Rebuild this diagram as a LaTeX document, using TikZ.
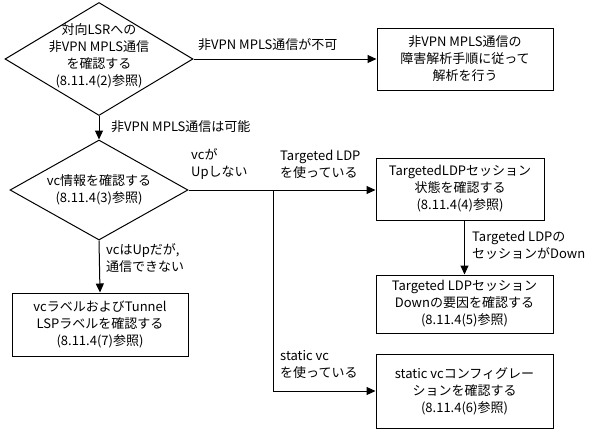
\documentclass[tikz,border=0pt]{standalone}
\usepackage{fontspec}
\setmainfont{Noto Sans CJK JP}
\newcommand{\CHKAX}{99}
\newcommand{\CHKAY}{59}
\newcommand{\CHKBX}{99}
\newcommand{\CHKBY}{190}
\newcommand{\SPLITX}{273}
\newcommand{\BOXAX}{465}
\newcommand{\BOXAY}{59}
\newcommand{\BOXBX}{460}
\newcommand{\BOXBY}{189}
\newcommand{\BOXCX}{464.5}
\newcommand{\BOXCY}{304}
\newcommand{\BOXDX}{464.5}
\newcommand{\BOXDY}{391}
\newcommand{\BOXEX}{100}
\newcommand{\BOXEY}{324.5}
\usetikzlibrary{positioning}
\usetikzlibrary{shapes.geometric,arrows.meta}

\begin{document}
\begin{tikzpicture}[x=1pt,y=-1pt]
\tikzstyle{every node}=[font=\fontsize{13pt}{17pt}\selectfont]
\tikzstyle{check}=[draw, diamond, line width=1pt, inner sep=0pt]
\tikzstyle{task}=[draw, rectangle, line width=1pt, align=center, inner sep=0pt]
\tikzstyle{flow}=[line width=1pt, -{Triangle[length=9pt,width=8pt]}]
\tikzstyle{cond}=[anchor=west, align=left, inner sep=0pt]
	\useasboundingbox (0,0) rectangle (595,432);

% Checks
	\node[check, minimum width=188pt, minimum height=113pt] (chka) at ({\CHKAX},{\CHKAY}) {};
	\node[align=center] (chkatext) at ({\CHKAX},{\CHKAY-3}) {対向LSRへの\\非VPN MPLS通信\\を確認する\\(8.11.4(2)参照)};
	\node[check, minimum width=178pt, minimum height=100pt] (chkb) at ({\CHKBX},{\CHKBY}) {};
	\node[align=center] (chkbtext) at ({\CHKBX},{\CHKBY}) {vc情報を確認する\\(8.11.4(3)参照)};

% Boxes
	\node[task, minimum width=176pt, minimum height=62pt] (boxa) at ({\BOXAX},{\BOXAY}) {非VPN MPLS通信の\\障害解析手順に従って\\解析を行う};
	\node[task, minimum width=168pt, minimum height=62pt] (boxb) at ({\BOXBX},{\BOXBY}) {TargetedLDPセッション\\状態を確認する\\(8.11.4(4)参照)};
	\node[task, minimum width=177pt, minimum height=58pt] (boxc) at ({\BOXCX},{\BOXCY}) {Targeted LDPセッション\\Downの要因を確認する\\(8.11.4(5)参照)};
	\node[task, minimum width=177pt, minimum height=74pt] (boxd) at ({\BOXDX},{\BOXDY}) {static vcコンフィグレー\\ションを確認する\\(8.11.4(6)参照)};
	\node[task, minimum width=176pt, minimum height=63pt] (boxe) at ({\BOXEX},{\BOXEY}) {vcラベルおよびTunnel\\LSPラベルを確認する\\(8.11.4(7)参照)};

% Connectors
	\coordinate (split) at ({\SPLITX},{\CHKBY});
	\draw[flow] (chka.east) -- (chka.east -| boxa.west);
	\draw[flow] (chka.south) -- (chkb.north);
	\draw[flow] (chkb.east) -- (chkb.east -| boxb.west);
	\draw[flow] (split) |- (boxd.west);
	\draw[flow] (boxb.south -| boxc.north) -- (boxc.north);
	\draw[flow] (chkb.south) -- (boxe.north);

% Conditions
	\node[cond] (ng) at (198,45) {非VPN MPLS通信が不可};
	\node[cond] (ok) at (111,127) {非VPN MPLS通信は可能};
	\node[cond] (vcdown) at (191,164) {vcが\\Upしない};
	\node[cond] (tldp) at (280,164) {Targeted LDP\\を使っている};
	\node[cond] (sessdown) at (472,245) {Targeted LDPの\\セッションがDown};
	\node[cond] (vcup) at (106,258) {vcはUpだが,\\通信できない};
	\node[cond] (static) at (280,365) {static vc\\を使っている};

\end{tikzpicture}
\end{document}
